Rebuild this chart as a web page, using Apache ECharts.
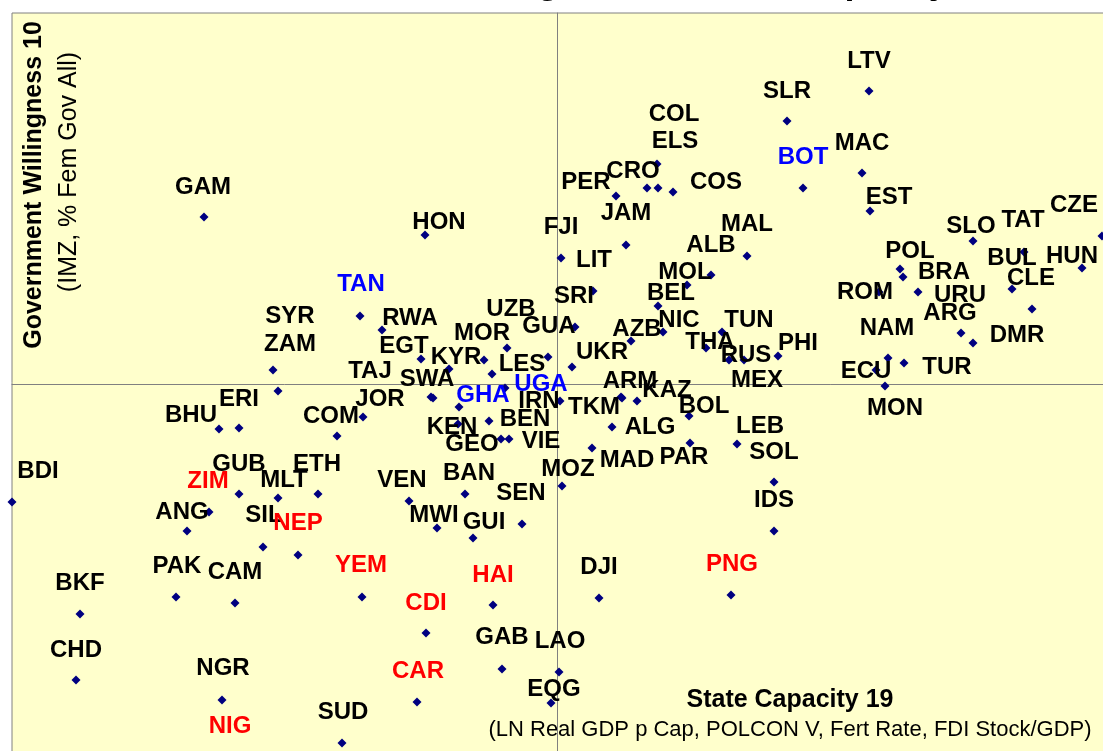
<!DOCTYPE html>
<html>
<head>
<meta charset="utf-8">
<script src="https://cdn.jsdelivr.net/npm/echarts@6/dist/echarts.min.js"></script>
<style>
  html, body { margin: 0; padding: 0; background: #fff; }
  #chart { width: 1103px; height: 751px; }
</style>
</head>
<body>
<div id="chart"></div>
<script>
// country codes, state capacity (x) and government willingness (y), origin at the quadrant lines
var countries = ["LTV","SLR","COL","ELS","CRO","COS","PER","BOT","MAC","EST",
  "JAM","FJI","LIT","SRI","GUA","UZB","MOR","KYR","EGT","RWA",
  "TAN","SYR","ZAM","TAJ","SWA","LES","UKR","GHA","UGA","IRN",
  "TKM","BEN","KEN","GEO","VIE","JOR","COM","ERI","BHU","GAM",
  "HON","ARM","KAZ","BOL","ALG","MAD","PAR","LEB","SOL","IDS",
  "MOZ","MAL","ALB","MOL","BEL","NIC","AZB","TUN","THA","RUS",
  "MEX","PHI","SLO","TAT","CZE","HUN","POL","BRA","ROM","URU",
  "ARG","DMR","BUL","CLE","NAM","TUR","ECU","MON","BDI","GUB",
  "ZIM","ANG","MLT","ETH","SIL","NEP","YEM","PAK","CAM","BKF",
  "CHD","NGR","NIG","SUD","VEN","BAN","SEN","MWI","GUI","DJI",
  "PNG","HAI","CDI","GAB","LAO","CAR","EQG"];
var stateCapacity = [3.12,2.30,1.00,1.01,0.90,1.16,0.59,2.46,3.05,3.13,
  0.69,0.04,0.36,0.18,-0.09,-0.50,-0.73,-1.08,-1.36,-1.75,
  -1.97,-2.84,-2.79,-1.26,-1.24,-0.65,0.15,-0.98,-0.52,0.03,
  0.64,-0.68,-0.99,-0.56,-0.48,-1.94,-2.20,-3.18,-3.38,-3.53,
  -1.32,0.65,0.80,1.32,0.55,0.35,1.33,1.80,2.17,2.17,
  0.05,1.90,1.54,1.30,1.01,1.06,0.74,1.65,1.49,1.72,
  1.87,2.21,4.16,4.67,5.45,5.25,3.43,3.46,3.22,3.61,
  4.04,4.16,4.55,4.75,3.31,3.47,3.19,3.28,-5.45,-3.18,
  -3.48,-3.70,-2.79,-2.39,-2.94,-2.59,-1.95,-3.81,-3.22,-4.77,
  -4.81,-3.35,-3.27,-2.15,-1.48,-0.92,-0.35,-1.20,-0.84,0.42,
  1.74,-0.64,-1.31,-0.55,0.02,-1.40,-0.06];
var govWillingness = [2.93,2.63,2.20,1.96,1.96,1.92,1.88,1.96,2.11,1.73,
  1.39,1.26,0.93,0.57,0.27,0.36,0.24,0.15,0.25,0.54,
  0.68,0.14,-0.07,-0.13,-0.14,0.10,0.17,-0.23,-0.04,-0.17,
  -0.13,-0.37,-0.40,-0.55,-0.55,-0.33,-0.52,-0.44,-0.45,1.67,
  1.49,-0.14,-0.17,-0.32,-0.43,-0.64,-0.59,-0.60,-0.98,-1.47,
  -1.02,1.28,1.09,0.99,0.78,0.52,0.43,0.52,0.36,0.24,
  0.24,0.28,1.43,1.32,1.48,1.16,1.15,1.07,0.92,0.92,
  0.51,0.41,0.95,0.75,0.26,0.21,0.14,-0.02,-1.18,-1.10,
  -1.28,-1.47,-1.14,-1.10,-1.63,-1.71,-2.13,-2.13,-2.19,-2.30,
  -2.96,-3.16,-3.73,-3.59,-1.17,-1.10,-1.40,-1.44,-1.54,-2.14,
  -2.11,-2.21,-2.49,-2.85,-2.88,-3.18,-3.19];
var redCountries = ["ZIM","NEP","YEM","CDI","HAI","CAR","NIG","PNG"];
var blueCountries = ["TAN","BOT","GHA","UGA"];

// where each label sits relative to its point, in pixels
var labelOffsets = [[0,-30],[0,-30],[17,-50],[17,-47],[-14,-17],[43,-10],[-30,-14],[0,-31],[0,-30],[19,-14],
  [0,-32],[0,-31],[1,-31],[-1,-31],[1,-31],[4,-39],[-2,-27],[7,-12],[-17,-13],[28,-12],
  [1,-32],[17,-54],[12,-47],[-61,-26],[-6,-19],[30,-10],[30,-15],[24,-12],[36,-4],[-21,0],
  [-27,10],[36,-2],[-6,3],[-29,5],[32,2],[17,-18],[-6,-20],[0,-29],[-28,-14],[-1,-30],
  [14,-13],[8,-17],[30,-11],[15,-10],[38,0],[35,12],[-6,14],[23,-18],[0,-30],[0,-31],
  [6,-17],[0,-32],[0,-30],[-2,-13],[13,-13],[16,-12],[6,-12],[27,-12],[4,-6],[17,-5],
  [13,20],[20,-13],[-2,-15],[-1,-32],[-28,-31],[-10,-12],[10,-18],[41,-5],[-14,0],[42,3],
  [-11,-20],[44,-8],[0,-31],[-1,-31],[-1,-30],[43,4],[-10,1],[10,22],[26,-31],[0,-30],
  [-1,-31],[-5,-19],[6,-18],[-1,-30],[1,-32],[0,-32],[-1,-32],[1,-31],[0,-31],[0,-31],
  [0,-30],[1,-32],[0,-31],[1,-31],[-7,-21],[4,-21],[-1,-31],[-3,-13],[11,-16],[0,-31],
  [1,-31],[0,-30],[0,-30],[0,-32],[1,-31],[1,-31],[3,-14]];

var points = countries.map(function(name, i) {
  var color = "#000000";
  if (redCountries.indexOf(name) >= 0) color = "#FF0000";
  if (blueCountries.indexOf(name) >= 0) color = "#0000FF";
  return {
    name: name,
    value: [stateCapacity[i], govWillingness[i]],
    label: { offset: labelOffsets[i], color: color }
  };
});

var chart = echarts.init(document.getElementById("chart"));
chart.setOption({
  backgroundColor: "#ffffff",
  animation: false,
  grid: {
    left: 12, top: 13, width: 1100, height: 748,
    outerBoundsMode: "none",
    show: true, backgroundColor: "#FFFFCC",
    borderColor: "#808080", borderWidth: 1
  },
  xAxis: {
    type: "value", min: -5.45, max: 5.55,
    axisLine: { onZero: true, lineStyle: { color: "#808080", width: 1 } },
    axisTick: { show: false }, axisLabel: { show: false }, splitLine: { show: false }
  },
  yAxis: {
    type: "value", min: -3.77, max: 3.71,
    axisLine: { onZero: true, lineStyle: { color: "#808080", width: 1 } },
    axisTick: { show: false }, axisLabel: { show: false }, splitLine: { show: false }
  },
  graphic: [
    { type: "text", left: 222, top: -35, style: { text: "Government Willingness vs State Capacity",
      font: "italic bold 36px 'Liberation Sans', Arial", fill: "#000" } },
    { type: "text", x: 34, y: 185, rotation: Math.PI / 2, style: { text: "Government Willingness 10",
      font: "bold 25px 'Liberation Sans', Arial", fill: "#000", align: "center", verticalAlign: "middle" } },
    { type: "text", x: 69, y: 172, rotation: Math.PI / 2, style: { text: "(IMZ, % Fem Gov All)",
      font: "25px 'Liberation Sans', Arial", fill: "#000", align: "center", verticalAlign: "middle" } },
    { type: "text", x: 790, y: 700, style: { text: "State Capacity 19",
      font: "bold 25px 'Liberation Sans', Arial", fill: "#000", align: "center", verticalAlign: "middle" } },
    { type: "text", x: 790, y: 730, style: { text: "(LN Real GDP p Cap, POLCON V, Fert Rate, FDI Stock/GDP)",
      font: "22px 'Liberation Sans', Arial", fill: "#000", align: "center", verticalAlign: "middle" } }
  ],
  series: [{
    type: "scatter",
    symbol: "diamond",
    symbolSize: 9,
    clip: false,
    itemStyle: { color: "#000080", opacity: 1 },
    label: {
      show: true,
      position: "inside",
      formatter: "{b}",
      fontFamily: "'Liberation Sans', Arial",
      fontWeight: "bold",
      fontSize: 24,
      textBorderWidth: 0
    },
    data: points
  }]
});
</script>
</body>
</html>
